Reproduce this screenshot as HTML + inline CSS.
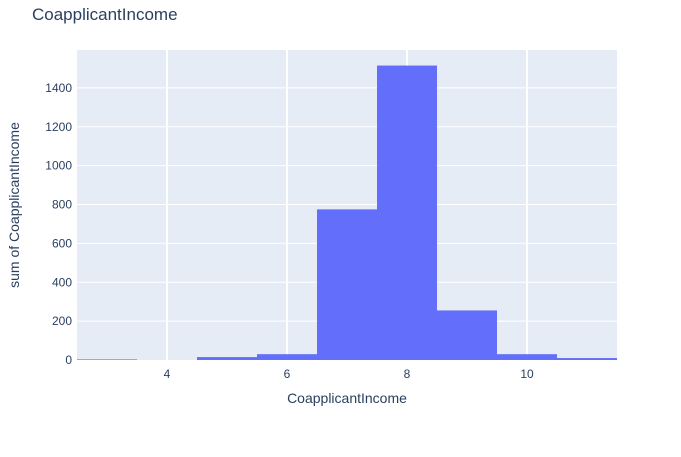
<!DOCTYPE html>
<html><head><meta charset="utf-8"><style>
body{margin:0;background:#fff;font-family:"Liberation Sans",Arial,sans-serif;}
svg text{font-family:"Liberation Sans",Arial,sans-serif;fill:#2a3f5f;}
</style></head><body>
<svg id="chart" width="681" height="452" xmlns="http://www.w3.org/2000/svg">
<rect width="681" height="452" fill="#fff"/>
<text x="32" y="20" font-size="17">CoapplicantIncome</text>
<rect x="77" y="50" width="540" height="310" fill="#e5ecf6"/>
<g id="grid"></g>
<g id="bars"></g>
<g id="ticks"></g>
<text x="347" y="403" font-size="14" text-anchor="middle">CoapplicantIncome</text>
<text transform="translate(19,205) rotate(-90)" font-size="14" text-anchor="middle">sum of CoapplicantIncome</text>
</svg>
<script>
const binCenters=[3,4,5,6,7,8,9,10,11];
const binValues=[3,0,15,30,775,1515,255,30,10];
const xTicks=[4,6,8,10];
const yTicks=[0,200,400,600,800,1000,1200,1400];
const NS="http://www.w3.org/2000/svg";
const X0=77,X1=617,Y0=360,Y1=50,xmin=2.5,xmax=11.5,ymax=1595;
const sx=v=>X0+(v-xmin)/(xmax-xmin)*(X1-X0);
const sy=v=>Y0-v/ymax*(Y0-Y1);
function mk(t,a,p){const e=document.createElementNS(NS,t);for(const k in a)e.setAttribute(k,a[k]);p.appendChild(e);return e;}
const grid=document.getElementById('grid'),bars=document.getElementById('bars'),ticks=document.getElementById('ticks');
yTicks.forEach(v=>{
 if(v>0){const l=mk('line',{x1:X0,x2:X1,y1:sy(v),y2:sy(v),stroke:'#fff','stroke-width':1},grid);
 
 }
 const t=mk('text',{x:72,y:sy(v)+4,'font-size':12,'text-anchor':'end'},ticks);t.textContent=v;
 
 
});
xTicks.forEach(v=>{
 const l=mk('line',{x1:sx(v),x2:sx(v),y1:Y1,y2:Y0,stroke:'#fff','stroke-width':2},grid);
 
 
 const t=mk('text',{x:sx(v),y:378,'font-size':12,'text-anchor':'middle'},ticks);t.textContent=v;
 
 
});
binCenters.forEach((c,i)=>{
 const v=binValues[i];
 const r=mk('rect',{x:sx(c-0.5),y:sy(v),width:sx(c+0.5)-sx(c-0.5),height:Y0-sy(v),fill:'#636efa'},bars);
 
 
});
</script>
</body></html>
